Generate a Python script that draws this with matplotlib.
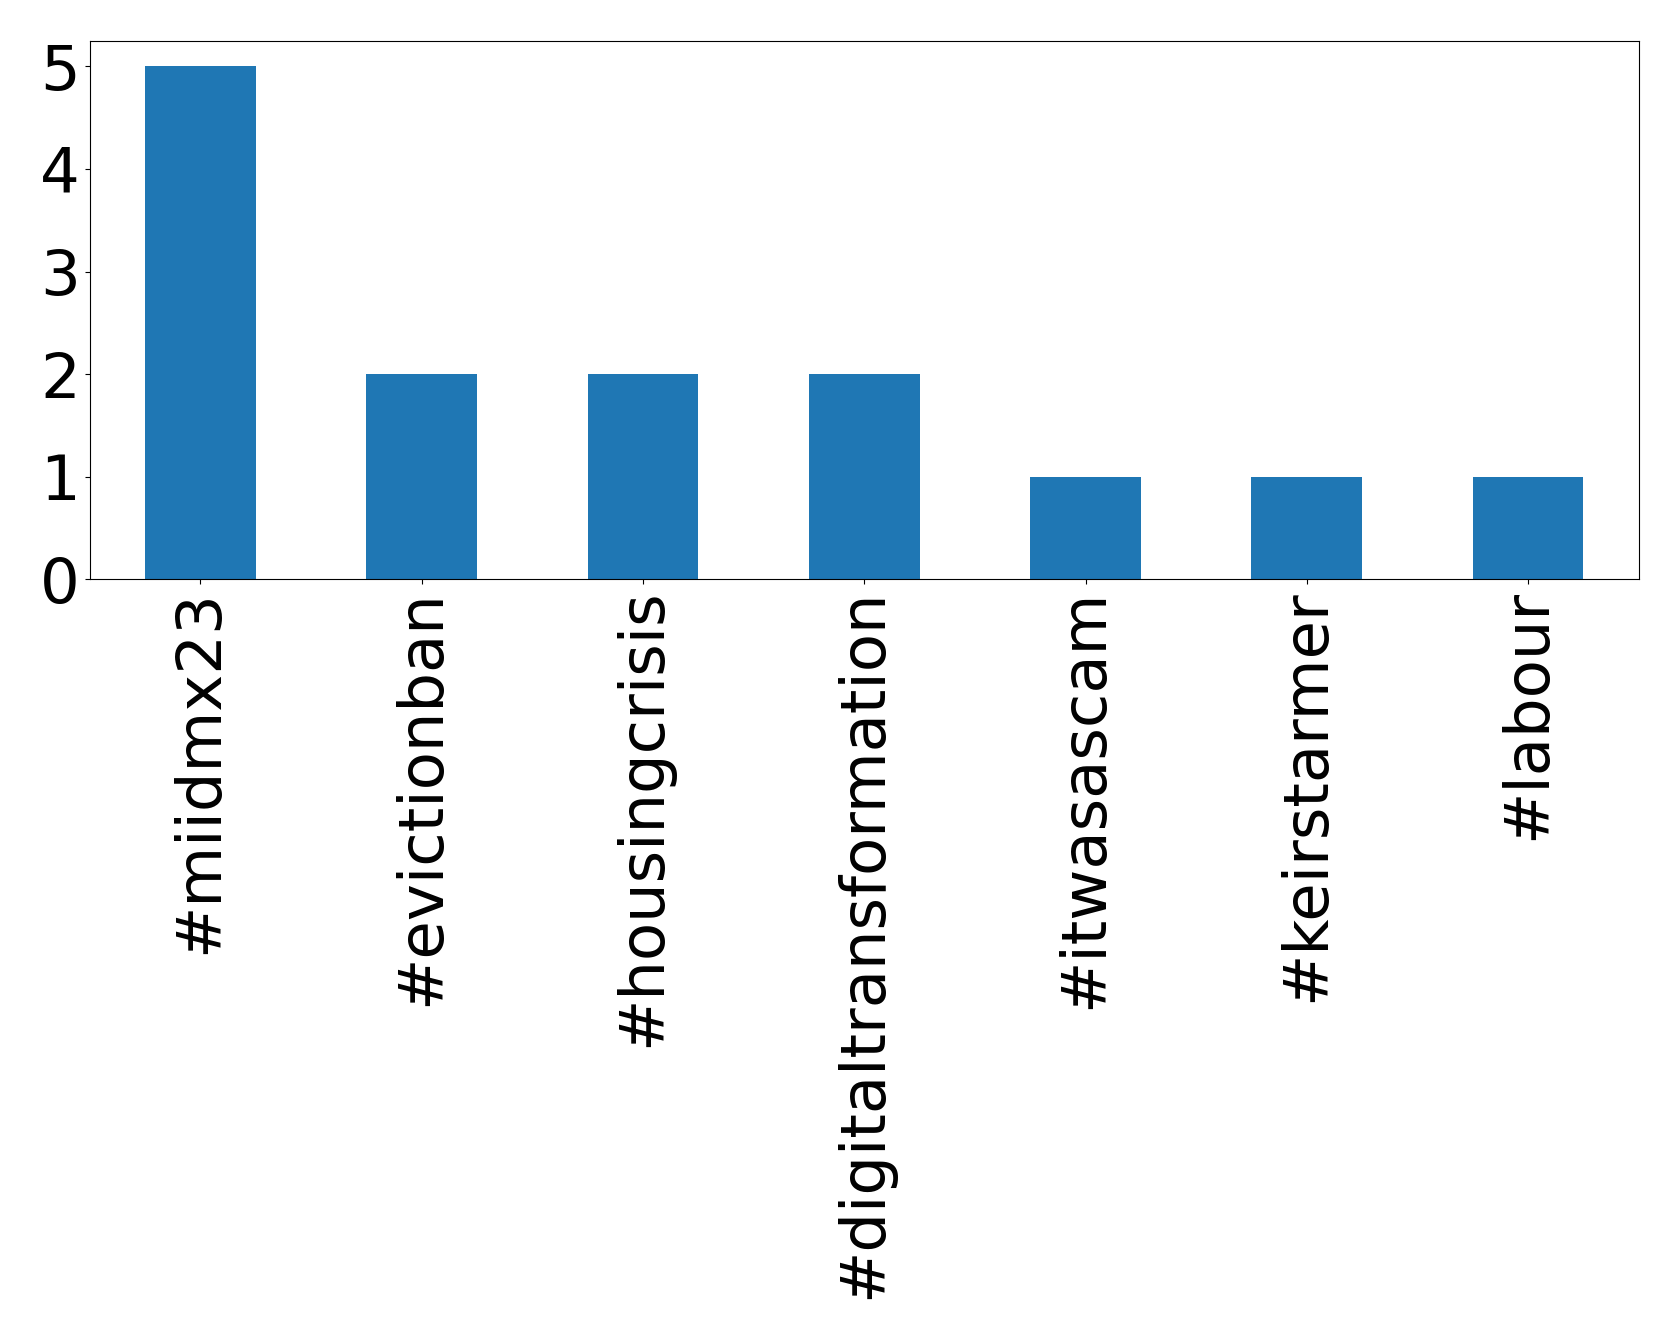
import matplotlib
matplotlib.use("Agg")
import matplotlib.pyplot as plt

# hashtag counts
tags = ["#miidmx23", "#evictionban", "#housingcrisis", "#digitaltransformation",
        "#itwasascam", "#keirstarmer", "#labour"]
counts = [5, 2, 2, 2, 1, 1, 1]

fig = plt.figure(figsize=(16.79, 13.39), dpi=100)
ax = fig.add_axes([0.0535, 0.5675, 0.9225, 0.402])
x = range(len(tags))
ax.bar(x, counts, width=0.5, color="#1f77b4")
ax.set_xlim(-0.5, len(tags) - 0.5)
ax.set_xticks(list(x))
ax.set_xticklabels(tags, rotation=90, fontsize=45)
ax.tick_params(axis="y", labelsize=45)
ax.set_yticks([0, 1, 2, 3, 4, 5])

fig.savefig("out.png", dpi=100)
